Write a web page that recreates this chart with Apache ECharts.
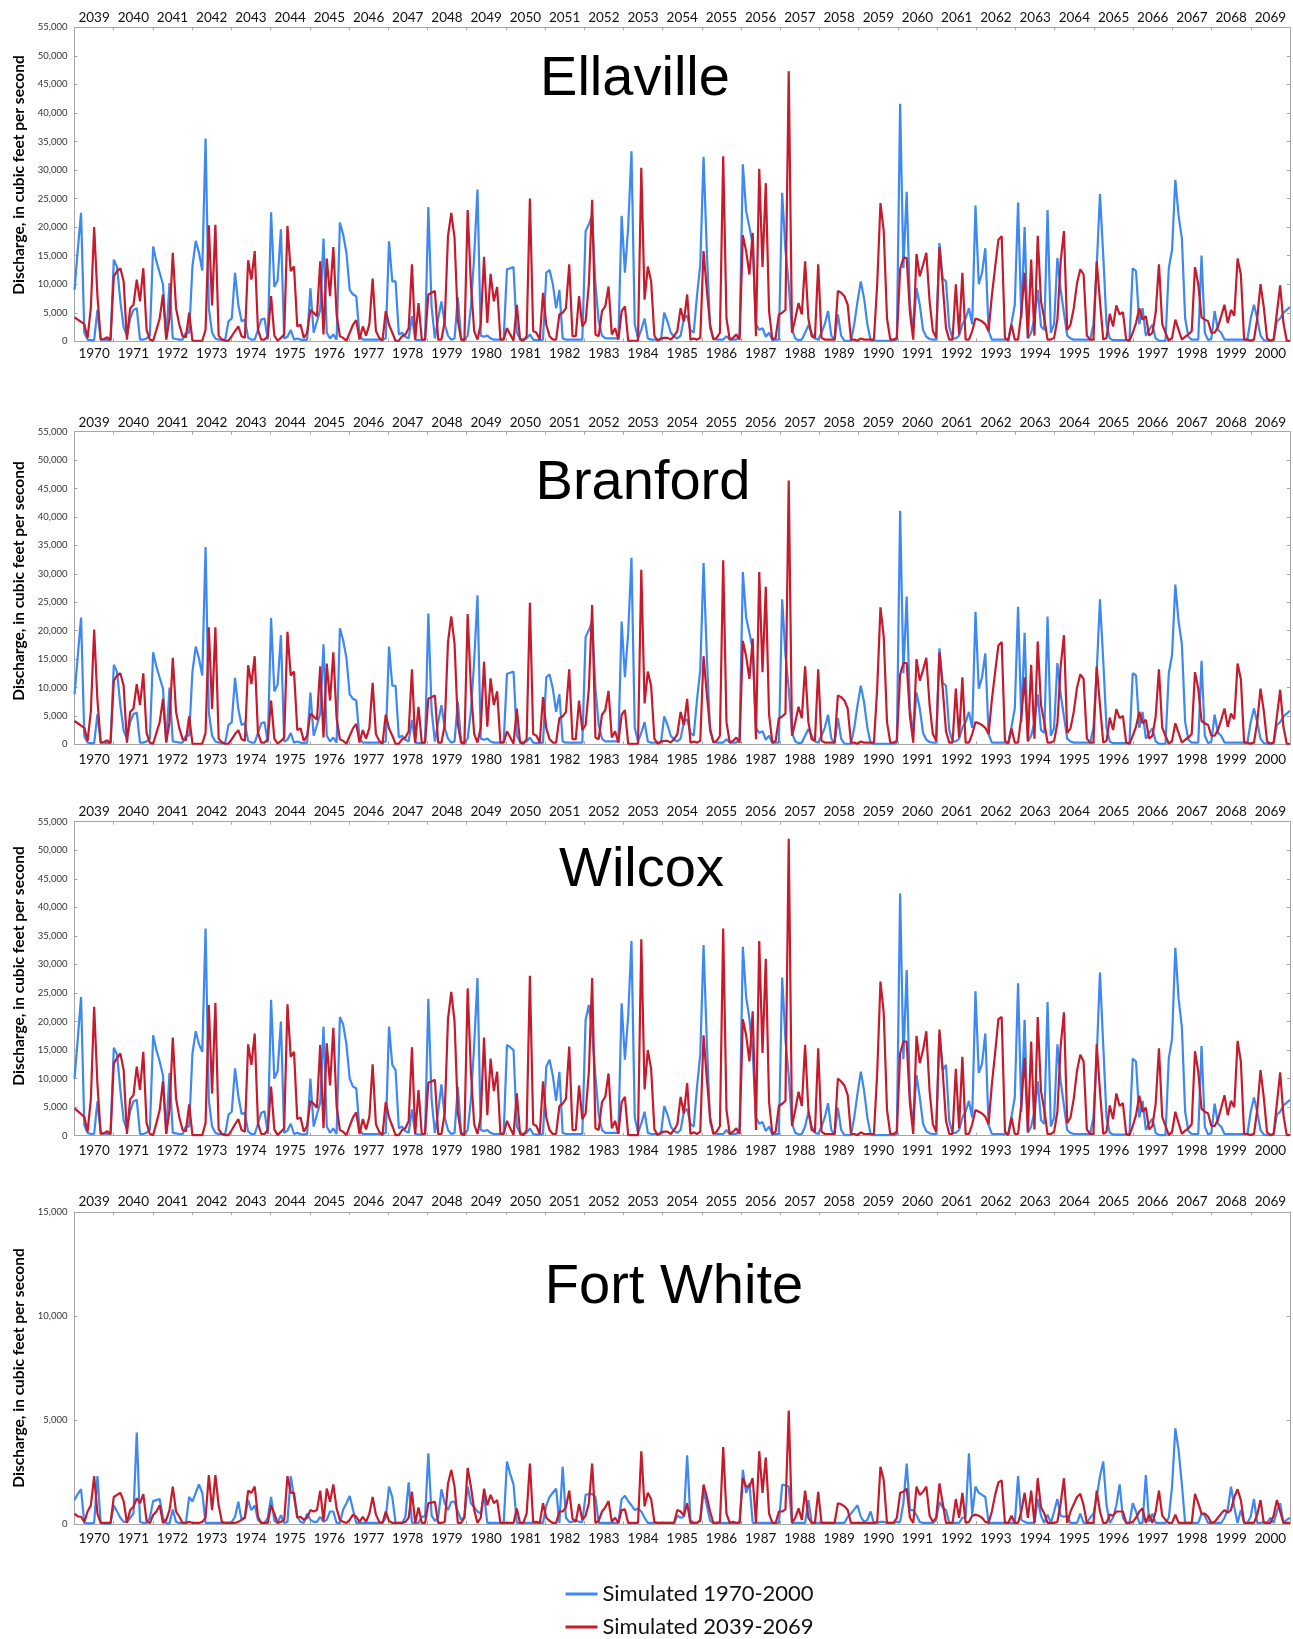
<!DOCTYPE html>
<html><head><meta charset="utf-8">
<script src="https://cdn.jsdelivr.net/npm/echarts@6/dist/echarts.min.js"></script>
<style>html,body{margin:0;padding:0;background:#fff}#c{width:1293px;height:1639px}</style>
</head><body><div id="c"></div>
<script>
// Tick labels
const histYears = [1970,1971,1972,1973,1974,1975,1976,1977,1978,1979,1980,1981,1982,1983,1984,1985,1986,1987,1988,1989,1990,1991,1992,1993,1994,1995,1996,1997,1998,1999,2000];
const futureYears = [2039,2040,2041,2042,2043,2044,2045,2046,2047,2048,2049,2050,2051,2052,2053,2054,2055,2056,2057,2058,2059,2060,2061,2062,2063,2064,2065,2066,2067,2068,2069];
const seriesNames = ['Simulated 1970-2000','Simulated 2039-2069'];
// Monthly discharge, thousands of cubic feet per second (one row per year, Jan..Dec)
const ellavilleHist = [
9,16,22.5,1.5,0.3,0.2,0.2,5.5,0.3,0.3,0.2,0.3,
14.3,13,7,2.5,1,4,5.5,5.8,0.3,0.3,0.5,1,
16.6,14,12,10,0.5,10.2,0.5,0.4,0.3,0.3,1.5,1.5,
13.1,17.6,15.5,12.4,35.5,5.8,1.5,0.5,0.3,0.3,0.3,3.5,
4,12,6.4,3.5,3.8,0.6,0.3,0.3,2,3.8,4,0.3,
22.6,9.5,10.7,19.6,0.5,0.8,2,0.3,0.5,0.3,0.2,0.3,
9.3,1.5,3.5,5.5,18,1.5,0.5,1.2,0.3,20.8,18.7,15.5,
9,8.2,7.9,1,0.3,0.3,0.3,0.3,0.3,0.3,0.3,0.5,
17.5,10.5,10.5,1.2,1.5,0.8,0.5,4.4,0.3,0.2,0.2,0.3,
23.5,6,0.5,4,7,3,1,0.3,0.5,7.7,0.5,0.3,
1,6,15,26.6,1,0.8,1,0.5,0.3,0.3,0.3,0.5,
12.6,12.8,13,1.5,0.5,0.3,0.5,1.2,0.3,0.2,0.2,0.3,
12,12.5,10,5.8,9,0.5,0.3,0.3,0.3,0.3,0.3,0.3,
19.3,20.5,22,10,3.5,1,0.5,0.5,0.5,0.5,0.5,22,
12,20,33.3,3,0.5,2,4,0.5,0.3,0.3,0.3,0.3,
5,3.5,1.5,0.8,0.5,1,4,4.5,2,1.5,8,13.4,
32.3,15.8,2.3,0.5,0.3,0.3,0.3,0.9,0.3,0.3,0.3,1,
31,22.8,20,17,3,2,2.3,0.8,1.5,0.2,0.3,0.3,
26,16,10,2,0.5,0.2,0.3,1.5,2.8,1.5,0.5,0.3,
1.5,3,5.3,1,0.2,4.7,1,0.1,0.1,0.1,3,7,
10.5,7.5,3,0.2,0.1,0.1,0.1,0.1,0.1,0.1,0.1,0.3,
41.6,12.8,26.2,6.4,2,9.3,6.4,2,0.8,0.4,0.3,0.3,
17.2,11,10.5,2.5,0.5,0.5,1,3,4,5.8,3,23.8,
10,12,16.3,1.8,0.3,0.3,0.3,0.3,0.3,0.3,3.2,6.4,
24.3,4,20,0.5,1.5,4,9,2.6,2,23,1.5,3,
14.6,9,5,1,0.5,0.3,0.3,0.3,0.3,0.3,0.3,3,
13,25.8,15,3,0.5,0.2,0.2,0.2,0.2,0.2,0.2,12.8,
12.3,3,5.8,1,2,2.9,0.5,0.1,0.1,0.1,12.8,16,
28.3,22,18,4,0.8,0.3,0.3,0.3,15,1.5,0.2,0.5,
5.3,2,1.5,0.3,0.3,0.3,0.3,0.3,0.3,0.3,0.3,4,
6.4,4,1,0.2,0.1,0.1,0.2,3.5,4,5,5.5,6];
const ellavilleFut = [
4.2,3.8,3.4,3,0.6,6,20,8,0.3,0.4,0.7,0.2,
11.4,12.3,12.8,10.5,0.3,5.8,6.4,10.8,7,12.8,2,0.3,
0.1,2,4,8.2,0.3,4,15.5,5.8,2.9,0.9,0.7,5,
0.1,0.1,0.1,0.1,2,20.3,6.3,20.4,1,0.3,0.1,0.1,
0.9,1.8,2.6,0.9,0.6,14.2,10.8,15.8,2,0.3,0.3,0.9,
7.9,1,0.1,0.6,1.2,20.2,12.3,13.1,2.6,2.9,0.6,1.5,
5.5,5,4.4,14,1.2,14.5,7.9,16.5,4.7,0.9,0.6,0.1,
1.5,2.9,3.7,0.3,2.6,1,3,11,1.8,0.6,0.1,5.3,
2.9,1.5,0.1,0.1,0.9,1.2,2.3,13.5,0.3,6.7,0.3,0.3,
8.2,8.5,8.8,0.3,0.3,3.5,18.4,22.5,18.1,3.7,0.3,0.1,
23,10,1.8,0.3,3,14.8,3.2,11.8,7,9.5,0.3,0.3,
2.3,1.2,0.1,6.4,0.3,0.1,0.9,25,1.8,1.5,0.3,8.5,
2.9,0.9,0.3,0.3,4.7,5,5.8,13.5,0.9,0.9,7.9,2.6,
3.5,10,24.8,1.2,0.9,5.3,6.1,9.6,1.2,2.3,0.3,5.3,
6.1,0.1,0.1,0.1,0.1,30.4,7.3,13.1,10.5,1,0.1,0.5,
0.6,0.6,0.3,0.9,1.8,5.8,3.5,8.2,0.3,0.5,0.3,0.6,
15.8,9,2.9,0.3,0.6,1.5,32.4,4,0.3,0.6,1.2,0.3,
18.6,15.8,11.7,19,0.9,30.2,13,27.7,5.3,0.3,0.6,4.7,
5,5.5,47.3,1.5,4,6.7,4.7,14,4,0.9,0.6,13.5,
0.6,0.3,0.3,0.3,0.3,8.8,8.5,7.9,6.4,0.3,0.3,0.1,
0.5,0.3,0.3,0.3,0.3,10,24.2,19.3,4,0.3,0.3,0.6,
12.6,14.6,14.6,5,0.3,15.3,11.4,13.4,15.5,7,1.8,0.6,
16.5,10,2.3,0.3,0.3,10,1.2,12,0.3,0.3,1.8,4,
3.8,3.5,3,1.8,8,13,17.8,18.4,0.6,0.1,2.9,0.3,
0.3,5,12,0.6,14.3,1,18.5,7,4,0.3,0.3,0.6,
3.8,14,19.3,2,2.9,5.8,10.2,12.6,11.7,1,0.3,0.3,
14,7,0.3,0.6,4.8,2.6,6.3,4.7,5.1,0.3,0.1,1.5,
3.2,5.8,3.8,4.4,1,1.5,5,13.5,3,1.5,0.1,0.6,
3.8,2,0.3,0.8,1.2,1.8,13,10,4.2,3.8,3.5,1.5,
1.5,2.5,4.4,6.4,3.2,5.5,4.5,14.5,11.7,0.3,0.3,0.1,
0.3,4,10,6,0.5,0.1,0.3,5,9.8,3.2,0.1,0.1];
const branfordHist = [
8.8,15.5,22.3,1.4,0.3,0.2,0.2,5.3,0.3,0.3,0.2,0.3,
14,12.7,6.8,2.4,1,3.9,5.3,5.6,0.3,0.3,0.5,1,
16.2,13.7,11.7,9.8,0.5,10,0.5,0.4,0.3,0.3,1.5,1.5,
12.8,17.2,15.1,12.1,34.7,5.6,1.5,0.5,0.3,0.3,0.3,3.4,
3.9,11.7,6.2,3.4,3.7,0.6,0.3,0.3,2,3.7,3.9,0.3,
22.2,9.3,10.5,19.2,0.5,0.8,2,0.3,0.5,0.3,0.2,0.3,
9.1,1.5,3.4,5.4,17.6,1.5,0.5,1.2,0.3,20.4,18.3,15.2,
8.8,8,7.7,1,0.3,0.3,0.3,0.3,0.3,0.3,0.3,0.5,
17.2,10.3,10.3,1.2,1.5,0.8,0.5,4.3,0.3,0.2,0.2,0.3,
23,5.9,0.5,3.9,6.9,2.9,1,0.3,0.5,7.5,0.5,0.3,
1,5.9,14.7,26.2,1,0.8,1,0.5,0.3,0.3,0.3,0.5,
12.4,12.6,12.8,1.5,0.5,0.3,0.5,1.2,0.3,0.2,0.2,0.3,
11.8,12.3,9.8,5.7,8.8,0.5,0.3,0.3,0.3,0.3,0.3,0.3,
18.9,20.1,21.6,9.8,3.4,1,0.5,0.5,0.5,0.5,0.5,21.6,
11.8,19.6,32.8,2.9,0.5,2,3.9,0.5,0.3,0.3,0.3,0.3,
4.9,3.4,1.5,0.8,0.5,1,3.9,4.4,2,1.5,7.8,13.1,
31.9,15.5,2.3,0.5,0.3,0.3,0.3,0.9,0.3,0.3,0.3,1,
30.3,22.3,19.6,16.7,2.9,2,2.3,0.8,1.5,0.2,0.3,0.3,
25.5,15.7,9.8,2,0.5,0.2,0.3,1.5,2.7,1.5,0.5,0.3,
1.5,2.9,5.2,1,0.2,4.6,1,0.1,0.1,0.1,2.9,6.9,
10.3,7.4,2.9,0.2,0.1,0.1,0.1,0.1,0.1,0.1,0.1,0.3,
41.1,12.5,26,6.3,2,9.1,6.3,2,0.8,0.4,0.3,0.3,
16.9,10.8,10.3,2.5,0.5,0.5,1,2.9,3.9,5.7,2.9,23.3,
9.8,11.8,16,1.8,0.3,0.3,0.3,0.3,0.3,0.3,3.1,6.3,
24.2,3.9,19.6,0.5,1.5,3.9,8.8,2.5,2,22.5,1.5,2.9,
14.3,8.8,4.9,1,0.5,0.3,0.3,0.3,0.3,0.3,0.3,2.9,
12.7,25.5,14.7,2.9,0.5,0.2,0.2,0.2,0.2,0.2,0.2,12.5,
12.1,2.9,5.7,1,2,2.8,0.5,0.1,0.1,0.1,12.5,15.7,
28.1,21.6,17.6,3.9,0.8,0.3,0.3,0.3,14.7,1.5,0.2,0.5,
5.2,2,1.5,0.3,0.3,0.3,0.3,0.3,0.3,0.3,0.3,3.9,
6.3,3.9,1,0.2,0.1,0.1,0.2,3.4,3.9,4.9,5.4,5.9];
const branfordFut = [
4.1,3.7,3.3,2.9,0.6,5.9,20.2,7.8,0.3,0.4,0.7,0.2,
11.2,12.1,12.5,10.3,0.3,5.7,6.3,10.6,6.9,12.5,2,0.3,
0.1,2,3.9,8,0.3,3.9,15.2,5.7,2.8,0.9,0.7,4.9,
0.1,0.1,0.1,0.1,2,20.6,6.2,20.6,1,0.3,0.1,0.1,
0.9,1.8,2.5,0.9,0.6,13.9,10.6,15.5,2,0.3,0.3,0.9,
7.7,1,0.1,0.6,1.2,19.8,12.1,12.8,2.5,2.8,0.6,1.5,
5.4,4.9,4.3,13.7,1.2,14.2,7.7,16.2,4.6,0.9,0.6,0.1,
1.5,2.8,3.6,0.3,2.5,1,2.9,10.8,1.8,0.6,0.1,5.2,
2.8,1.5,0.1,0.1,0.9,1.2,2.3,13.2,0.3,6.6,0.3,0.3,
8,8.3,8.6,0.3,0.3,3.4,18,22.5,17.7,3.6,0.3,0.1,
22.9,9.8,1.8,0.3,2.9,14.5,3.1,11.6,6.9,9.3,0.3,0.3,
2.3,1.2,0.1,6.3,0.3,0.1,0.9,24.9,1.8,1.5,0.3,8.3,
2.8,0.9,0.3,0.3,4.6,4.9,5.7,13.2,0.9,0.9,7.7,2.5,
3.4,9.8,24.5,1.2,0.9,5.2,6,9.4,1.2,2.3,0.3,5.2,
6,0.1,0.1,0.1,0.1,30.7,7.2,12.8,10.3,1,0.1,0.5,
0.6,0.6,0.3,0.9,1.8,5.7,3.4,8,0.3,0.5,0.3,0.6,
15.5,8.8,2.8,0.3,0.6,1.5,32.4,3.9,0.3,0.6,1.2,0.3,
18.2,15.5,11.5,18.6,0.9,30.3,12.7,27.7,5.2,0.3,0.6,4.6,
4.9,5.4,46.4,1.5,3.9,6.6,4.6,13.7,3.9,0.9,0.6,13.2,
0.6,0.3,0.3,0.3,0.3,8.6,8.3,7.7,6.3,0.3,0.3,0.1,
0.5,0.3,0.3,0.3,0.3,9.8,24.1,18.9,3.9,0.3,0.3,0.6,
12.3,14.3,14.3,4.9,0.3,15,11.2,13.1,15.2,6.9,1.8,0.6,
16.2,9.8,2.3,0.3,0.3,9.8,1.2,11.8,0.3,0.3,1.8,3.9,
3.7,3.4,2.9,1.8,7.8,12.7,17.4,18,0.6,0.1,2.8,0.3,
0.3,4.9,11.8,0.6,14,1,18.1,6.9,3.9,0.3,0.3,0.6,
3.7,13.7,19.2,2,2.8,5.7,10,12.3,11.5,1,0.3,0.3,
13.7,6.9,0.3,0.6,4.7,2.5,6.2,4.6,5,0.3,0.1,1.5,
3.1,5.7,3.7,4.3,1,1.5,4.9,13.2,2.9,1.5,0.1,0.6,
3.7,2,0.3,0.8,1.2,1.8,12.7,9.8,4.1,3.7,3.4,1.5,
1.5,2.5,4.3,6.3,3.1,5.4,4.4,14.2,11.5,0.3,0.3,0.1,
0.3,3.9,9.8,5.9,0.5,0.1,0.3,4.9,9.6,3.1,0.1,0.1];
const wilcoxHist = [
10,17,24.3,1.8,0.5,0.3,0.3,6,0.5,0.4,0.3,0.5,
15.4,14.2,8,2.7,1.1,4.3,6,6.3,0.3,0.3,0.5,1.1,
17.6,15,13,10.6,0.6,11,0.5,0.4,0.3,0.3,1.6,1.6,
14.4,18.3,16,14.7,36.3,6.2,1.6,0.5,0.3,0.3,0.3,3.7,
4.2,11.8,7,3.8,4,0.7,0.3,0.3,2.1,4,4.3,0.3,
23.8,10,11.3,20,0.5,0.9,2.1,0.3,0.5,0.3,0.2,0.3,
10,1.6,3.7,5.8,19.1,1.6,0.5,1.3,0.3,20.8,19.5,16,
10,8.6,8.3,1.1,0.3,0.3,0.3,0.3,0.3,0.3,0.3,0.5,
19.1,12.4,11.5,1.3,1.6,0.8,0.5,4.6,0.3,0.2,0.2,0.3,
24,6.3,0.5,4.2,9,3.2,1,0.3,0.5,8.5,0.5,0.3,
1,6.3,16,27.6,1,0.8,1,0.5,0.3,0.3,0.3,0.5,
15.9,15.5,15,1.6,0.5,0.3,0.5,1.3,0.3,0.2,0.2,0.3,
12.1,13.3,10.5,6.1,11.2,0.5,0.3,0.3,0.3,0.3,0.3,0.3,
20.3,22.9,17.9,10.5,3.7,1,0.5,0.5,0.5,0.5,0.5,23.2,
13.3,21,34.1,3.2,0.5,2.1,4.2,0.5,0.3,0.3,0.3,0.3,
5.2,3.7,1.6,0.8,0.5,1,4.2,4.7,2.1,1.6,8.5,14.2,
33.4,16.5,2.4,0.5,0.3,0.3,0.3,1,0.3,0.3,0.3,1,
33.1,24.3,20.5,14.5,3.2,2.1,2.4,0.8,1.6,0.2,0.3,0.3,
27.7,16.8,10.5,2.1,0.5,0.2,0.3,1.6,4.2,1.6,0.5,0.3,
1.6,3.2,5.7,1,0.2,4.9,1,0.1,0.1,0.1,3.2,7.4,
11.2,7.9,3.2,0.2,0.1,0.1,0.1,0.1,0.1,0.1,0.1,0.3,
42.4,13.4,29,6.7,2.1,10.6,6.7,2.1,0.8,0.4,0.3,0.3,
18,11.5,12.4,2.6,0.5,0.5,1,3.2,4.2,6.1,3.2,25.3,
11,12.6,17.9,1.9,0.3,0.3,0.3,0.3,0.3,0.3,3.4,6.7,
26.7,4.2,20.3,0.5,1.6,4.2,9.5,2.7,2.1,23.4,1.6,3.2,
16,9.5,5.3,1,0.5,0.3,0.3,0.3,0.3,0.3,0.3,3.2,
13.7,28.6,15.8,3.2,0.5,0.2,0.2,0.2,0.2,0.2,0.2,13.5,
13,3.2,6.1,1,2.1,3,0.5,0.1,0.1,0.1,13.5,17,
32.9,24,19,4.2,0.8,0.3,0.3,0.3,15.7,1.6,0.2,0.5,
5.6,2.1,1.6,0.3,0.3,0.3,0.3,0.3,0.3,0.3,0.3,4.2,
6.7,4.2,1,0.2,0.1,0.1,0.2,3.7,4.2,5.3,5.8,6.3];
const wilcoxFut = [
4.8,4.3,3.8,3.3,0.7,6.5,22.6,9,0.3,0.4,0.8,0.2,
12.7,13.6,14.4,11.5,0.3,6.4,7.1,12.1,8,14.7,2.2,0.3,
0.1,2.2,4.5,9.5,0.3,4.5,17.2,6.5,3.2,1,0.8,5.5,
0.1,0.1,0.1,0.1,2.2,22.9,7.4,23.3,1.1,0.3,0.1,0.1,
1,2,2.9,1,0.7,16,12.4,17.9,2.2,0.3,0.3,1,
8.6,1.1,0.1,0.7,1.3,23,13.8,14.7,2.9,3.2,0.7,1.7,
6.1,5.6,4.9,15.9,1.3,16.2,8.8,18.9,5.2,1,0.7,0.1,
1.7,3.2,4.1,0.3,2.9,1.1,3.3,12.5,2,0.7,0.1,5.9,
3.2,1.7,0.1,0.1,1,1.3,2.6,15.5,0.3,8,0.3,0.3,
9.3,9.5,9.8,0.3,0.3,3.9,20.4,25.2,20,4.1,0.3,0.1,
25.8,11.2,2,0.3,3.3,17.2,3.6,13.5,7.8,11.2,0.3,0.3,
2.6,1.3,0.1,7.4,0.3,0.1,1,28,2,1.7,0.3,9.5,
3.2,1,0.3,0.3,5.2,5.6,6.5,15.6,1,1,8.8,2.9,
3.9,11.2,27.6,1.3,1,5.9,6.8,10.9,1.3,2.6,0.3,5.9,
6.8,0.1,0.1,0.1,0.1,34.4,8.1,15,11.7,1.1,0.1,0.6,
0.7,0.7,0.3,1,2,6.8,3.9,9.2,0.3,0.6,0.3,0.7,
17.6,10,3.2,0.3,0.7,1.7,36.3,4.5,0.3,0.7,1.3,0.3,
20.4,17.6,13,21.8,1,34.1,14.5,31,5.9,0.3,0.7,5.2,
5.6,6.1,52,1.7,4.5,7.7,5.2,15.9,4.5,1,0.7,15.3,
0.7,0.3,0.3,0.3,0.3,10,9.5,8.8,7.1,0.3,0.3,0.1,
0.6,0.3,0.3,0.3,0.3,11,27,21.5,4.5,0.3,0.3,0.7,
14.4,16.5,16.5,5.6,0.3,17.5,12.7,15,18.3,7.8,2,0.7,
18.6,11.2,2.6,0.3,0.3,11.7,1.3,13.8,0.3,0.3,2,4.5,
4.2,3.9,3.3,2,9,14.5,20.4,20.8,0.7,0.1,3.2,0.3,
0.3,5.6,13.7,0.7,16.5,1.1,20.8,7.8,4.5,0.3,0.3,0.7,
4.2,15.7,21.6,2.2,3.2,6.5,11.4,14.2,13,1.1,0.3,0.3,
16,7.8,0.3,0.7,5.3,2.9,7.4,5.2,5.7,0.3,0.1,1.7,
3.6,7,4.2,4.9,1.1,1.7,5.6,15.3,3.3,1.7,0.1,0.7,
4.2,2.2,0.3,0.9,1.3,2,14.8,11.2,4.7,4.2,3.9,1.7,
1.7,2.8,4.9,7.1,3.6,6.1,5,16.6,13,0.3,0.3,0.1,
0.3,4.5,11.5,6.7,0.6,0.1,0.3,5.6,11.1,3.6,0.1,0.1];
const fortWhiteHist = [
1.15,1.45,1.67,0.05,0.03,0.03,0.05,2.3,0.05,0.02,0.02,0.02,
0.9,0.6,0.3,0.1,0.1,0.3,0.5,4.4,0.1,0.05,0.05,0.3,
1.1,1.15,1.2,0.3,0.03,0.03,0.7,0.1,0.05,0.05,0.05,1.3,
1.07,1.5,1.9,1.5,0.05,0.05,0.05,0.05,0.05,0.05,0.05,0.05,
0.1,0.35,1.07,0.2,0.35,1.15,0.67,0.9,0.2,0.05,0.05,0.3,
1.3,0.15,0.05,0.43,0.05,0.1,2.3,1.3,0.35,0.1,0.05,0.5,
0.2,0.1,0.1,0.35,0.1,0.2,0.6,0.6,0.05,0.05,0.7,1.0,
1.35,0.7,0.05,0.05,0.05,0.05,0.05,0.05,0.05,0.05,0.05,0.3,
1.8,1.3,0.05,0.05,0.05,0.35,2.0,0.05,0.05,0.05,0.35,0.35,
3.4,0.4,0.15,0.3,1.67,1.0,0.67,1.07,1.07,0.6,0.2,0.35,
1.8,1.0,0.8,0.6,0.5,1.4,0.05,0.05,0.05,0.05,0.05,0.05,
3.0,2.4,1.9,0.05,0.05,0.05,0.05,0.05,0.05,0.05,0.05,0.05,
0.9,1.3,1.5,1.7,0.05,2.75,0.3,0.1,0.1,0.2,0.1,0.1,
1.4,1.44,1.44,1.3,0.05,0.05,0.05,0.05,0.05,0.05,0.05,1.2,
1.35,1.1,0.9,0.67,0.75,0.6,0.3,0.05,0.05,0.05,0.05,0.05,
0.05,0.05,0.05,0.05,0.4,0.3,0.35,3.3,0.2,0.05,0.05,0.15,
1.6,0.9,0.15,0.05,0.05,0.05,0.05,0.05,0.05,0.05,0.05,0.05,
2.6,1.5,1.95,0.05,0.05,0.05,0.05,0.05,0.05,0.05,0.05,0.05,
1.9,1.85,1.8,0.05,0.05,0.05,0.05,0.05,1.15,0.05,0.05,0.05,
0.05,0.05,0.05,0.05,0.05,0.05,0.05,0.05,0.35,0.5,0.7,0.9,
0.35,0.1,0.2,0.6,0.05,0.05,0.1,0.1,0.05,0.05,0.05,0.1,
0.1,1.0,2.9,0.67,0.67,0.43,0.1,0.05,0.05,0.05,0.05,0.2,
1.07,0.8,0.67,0.05,0.05,0.05,0.05,0.3,0.3,3.4,0.45,1.8,
1.5,1.4,1.3,0.05,0.05,0.05,0.05,0.05,0.05,0.05,0.05,0.05,
2.3,0.2,0.1,0.05,0.05,0.05,1.2,0.4,0.05,0.45,0.05,0.6,
1.2,0.4,0.35,0.4,0.05,0.05,0.05,0.5,0.05,0.05,0.3,0.5,
1.3,2.3,3.0,0.9,0.05,0.3,0.9,1.9,0.3,0.05,0.05,1.0,
0.6,0.05,0.05,2.35,0.1,0.5,0.05,0.05,0.05,0.05,0.3,1.8,
4.6,3.55,1.9,0.05,0.05,0.05,0.05,0.05,0.5,0.4,0.05,0.05,
0.05,0.05,0.05,0.3,0.7,1.8,0.8,0.05,0.67,0.05,0.05,0.35,
1.2,0.05,0.05,0.1,0.05,0.3,0.05,0.6,1.0,0.05,0.2,0.3];
const fortWhiteFut = [
0.5,0.37,0.35,0.1,0.6,0.9,2.3,0.5,0.05,0.05,0.05,0.05,
1.3,1.4,1.5,1.1,0.05,0.67,0.83,1.23,1.0,1.44,0.15,0.05,
0.43,0.6,0.9,0.05,0.2,0.67,1.8,0.6,0.35,0.05,0.05,0.1,
0.05,0.05,0.05,0.1,0.3,2.35,0.67,2.35,0.9,0.1,0.05,0.05,
0.05,0.05,0.1,0.2,0.3,1.6,1.5,1.8,0.35,0.05,0.05,0.05,
0.9,0.5,0.05,0.1,0.2,2.3,1.5,1.5,0.3,0.35,0.2,0.3,
0.67,0.6,0.67,1.6,0.15,1.7,1.07,1.9,0.75,0.2,0.1,0.05,
0.2,0.45,0.35,0.1,0.35,0.1,0.5,1.3,0.45,0.1,0.05,0.6,
0.15,0.05,0.05,0.05,0.05,0.1,0.3,1.55,0.05,0.8,0.05,0.05,
1.0,1.03,1.07,0.05,0.05,0.1,1.95,2.6,1.8,0.05,0.05,0.3,
2.7,1.8,0.67,0.05,0.3,1.7,0.9,1.4,1.0,1.15,0.05,0.05,
0.05,0.05,0.05,0.75,0.05,0.05,0.5,2.9,0.1,0.1,0.05,1.0,
0.3,0.15,0.05,0.05,0.6,0.6,0.8,1.6,0.25,0.1,0.96,0.2,
0.4,1.0,2.9,0.05,0.15,0.6,0.8,1.1,0.1,0.3,0.05,0.67,
0.7,0.05,0.05,0.05,0.05,3.5,0.85,1.5,1.2,0.1,0.05,0.05,
0.05,0.05,0.05,0.05,0.67,0.6,0.4,1.0,0.05,0.05,0.05,0.2,
1.9,1.3,0.6,0.05,0.05,0.1,3.7,0.5,0.05,0.1,0.05,0.05,
2.2,1.8,1.8,2.2,0.05,3.5,1.5,3.2,0.5,0.05,0.05,0.6,
0.6,0.7,5.45,0.05,0.3,0.75,0.2,1.6,0.3,0.05,0.05,1.55,
0.05,0.05,0.05,0.05,0.05,1.0,0.95,0.85,0.67,0.05,0.05,0.05,
0.05,0.05,0.05,0.05,0.05,0.1,2.75,2.1,0.05,0.05,0.05,0.3,
1.5,1.55,1.7,0.3,0.05,1.8,1.4,1.55,1.8,0.4,0.1,0.3,
1.95,1.0,0.05,0.05,0.05,1.2,0.3,1.5,0.05,0.1,0.4,0.45,
0.4,0.3,0.1,0.05,0.6,1.4,2.0,2.1,0.05,0.05,0.4,0.05,
0.05,0.6,1.5,0.3,1.6,0.05,2.2,0.8,0.5,0.05,0.05,0.05,
0.1,1.0,2.2,0.05,0.6,0.95,1.3,1.45,0.9,0.05,0.05,0.05,
1.6,0.6,0.05,0.05,0.45,0.4,0.6,0.6,0.6,0.05,0.05,0.1,
0.3,0.6,0.75,0.05,0.45,0.05,0.6,1.6,0.4,0.2,0.05,0.05,
0.45,0.05,0.05,0.05,0.05,0.05,1.45,1.0,0.5,0.5,0.35,0.05,
0.1,0.3,0.5,0.67,0.55,0.67,1.3,1.67,1.15,0.05,0.05,0.05,
0.05,0.45,1.15,0.05,0.05,0.05,0.4,1.15,0.6,0.05,0.05,0.05];

// ---------- chart construction ----------
const KCFS = 1000;
const monthLabels = [];
histYears.forEach(y => { for (let m = 1; m <= 12; m++) monthLabels.push(y + '-' + m); });

const panels = [
  {name:'Ellaville', hist:ellavilleHist, fut:ellavilleFut, max:55000, top:27.3, h:314, tx:635, ty:80, ay:175, bm:5, tm:3},
  {name:'Branford', hist:branfordHist, fut:branfordFut, max:55000, top:431.7, h:312.6, tx:643, ty:484, ay:581, bm:8, tm:2},
  {name:'Wilcox', hist:wilcoxHist, fut:wilcoxFut, max:55000, top:821.7, h:314, tx:641.5, ty:871, ay:966, bm:8, tm:3.5},
  {name:'Fort White', hist:fortWhiteHist, fut:fortWhiteFut, max:15000, top:1212, h:312, tx:674, ty:1288, ay:1368, bm:8, tm:3}
];
const AX = '#a6a6a6';
const LAB = 'Lato, "Noto Sans", sans-serif';
const BLUE = '#3d88f2', RED = '#c51b2c';
const grid = [], xAxis = [], yAxis = [], series = [], graphic = [];
panels.forEach((p, i) => {
  grid.push({left:74.5, width:1215.5, top:p.top, height:p.h, containLabel:false, outerBoundsMode:'none'});
  xAxis.push({type:'category', gridIndex:i, data:monthLabels, boundaryGap:false, show:false});
  xAxis.push({type:'category', gridIndex:i, position:'bottom', data:histYears.map(String), boundaryGap:true,
    axisLine:{show:true, lineStyle:{color:AX, width:1}},
    axisTick:{show:true, inside:true, length:3, interval:0, lineStyle:{color:AX}},
    axisLabel:{interval:0, fontSize:13.5, fontFamily:LAB, color:'#111', margin:p.bm},
    splitLine:{show:false}});
  xAxis.push({type:'category', gridIndex:i, position:'top', data:futureYears.map(String), boundaryGap:true,
    axisLine:{show:true, lineStyle:{color:AX, width:1}},
    axisTick:{show:true, inside:true, length:3, interval:0, lineStyle:{color:AX}},
    axisLabel:{interval:0, fontSize:13.5, fontFamily:LAB, color:'#111', margin:p.tm},
    splitLine:{show:false}});
  yAxis.push({type:'value', gridIndex:i, min:0, max:p.max, interval:5000, position:'left',
    axisLine:{show:true, lineStyle:{color:AX, width:1}},
    axisTick:{show:true, inside:true, length:3, lineStyle:{color:AX}},
    axisLabel:{fontSize:9.5, fontFamily:LAB, color:'#333', margin:7, formatter:v => v.toLocaleString('en-US')},
    splitLine:{show:false}});
  yAxis.push({type:'value', gridIndex:i, min:0, max:p.max, interval:5000, position:'right',
    axisLine:{show:true, lineStyle:{color:AX, width:1}},
    axisTick:{show:true, inside:true, length:3, lineStyle:{color:AX}},
    axisLabel:{show:false}, splitLine:{show:false}});
  [[p.hist, seriesNames[0], BLUE], [p.fut, seriesNames[1], RED]].forEach(([arr, nm, col]) => {
    series.push({type:'line', name:nm, xAxisIndex:3*i, yAxisIndex:2*i,
      data:arr.map(v => v * KCFS), showSymbol:false, symbol:'none', smooth:false,
      lineStyle:{color:col, width:2.2}, itemStyle:{color:col}, emphasis:{disabled:true}, silent:true});
  });
  graphic.push({type:'text', x:p.tx, y:p.ty, style:{text:p.name, font:'56px "Liberation Sans", Arial, sans-serif', fill:'#000',
    align:'center', verticalAlign:'middle', textAlign:'center', textVerticalAlign:'middle'}});
  graphic.push({type:'text', x:19, y:p.ay, rotation:Math.PI/2, style:{text:'Discharge, in cubic feet per second',
    font:'bold 15.5px Lato, "Noto Sans", sans-serif', fill:'#000', align:'center', verticalAlign:'middle', textAlign:'center', textVerticalAlign:'middle'}});
});

const legendBase = {orient:'horizontal', left:560.5, padding:5, itemWidth:32, itemHeight:3, icon:'rect', selectedMode:false,
  textStyle:{fontSize:22, fontFamily:LAB, color:'#111', lineHeight:24}};
const chart = echarts.init(document.getElementById('c'), null, {renderer:'canvas', width:1293, height:1639});
chart.setOption({
  animation:false,
  backgroundColor:'#ffffff',
  grid, xAxis, yAxis, series, graphic,
  legend:[
    Object.assign({}, legendBase, {data:[seriesNames[0]], top:1577}),
    Object.assign({}, legendBase, {data:[seriesNames[1]], top:1610})
  ]
});
</script>
</body></html>
